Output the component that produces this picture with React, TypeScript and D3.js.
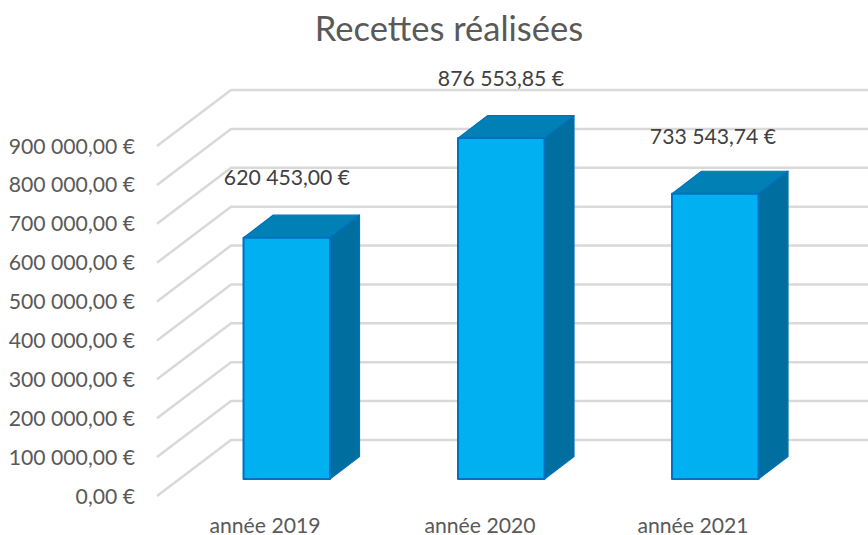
import React from "react";
import * as d3 from "d3";

const categories = ["année 2019", "année 2020", "année 2021"];
const values = [620453.0, 876553.85, 733543.74];
const valueLabels = ["620 453,00 €", "876 553,85 €", "733 543,74 €"];
const ticks = [0, 100000, 200000, 300000, 400000, 500000, 600000, 700000, 800000, 900000];
const tickLabels = ["0,00 €", "100 000,00 €", "200 000,00 €", "300 000,00 €", "400 000,00 €", "500 000,00 €", "600 000,00 €", "700 000,00 €", "800 000,00 €", "900 000,00 €"];
const labelCenters = [287, 501, 713];
const labelBaselines = [185, 85.5, 144];
const barLefts = [243.5, 458, 672];
const categoryCenters = [265, 480, 693];

const font = "Lato, Carlito, 'Open Sans', sans-serif";

export default function App() {
  const yFront = d3.scaleLinear().domain([0, 900000]).range([496, 146]);
  const yBar = d3.scaleLinear().domain([0, 900000]).range([479, 129]);
  const bw = 86.5;
  const dx = 29.5;
  const dy = 22.5;
  const wallDx = 74;
  const wallDy = 56;
  return (
    <svg width={868} height={535} style={{ position: "absolute", left: 0, top: 0, background: "#fff" }} fontFamily={font}>
      <text x={449} y={41} textAnchor="middle" fontSize={34.5} fill="#595959">Recettes réalisées</text>
      {ticks.map((t, i) => {
        const y = yFront(t);
        return (
          <g key={t}>
            <polyline points={`157,${y} ${157 + wallDx},${y - wallDy} 868,${y - wallDy}`} fill="none" stroke="#d9d9d9" strokeWidth={2.5} />
            <text x={135} y={y + 7.5} textAnchor="end" fontSize={21.2} fill="#595959">{tickLabels[i]}</text>
          </g>
        );
      })}
      <g>
        {categories.map((c, i) => {
          const x0 = barLefts[i];
          const x1 = x0 + bw;
          const y0 = yBar(0);
          const yt = yBar(values[i]);
          return (
            <g key={c} stroke="#0070c0" strokeLinejoin="round">
              <path d={`M${x0},${yt} L${x0 + dx},${yt - dy} L${x1 + dx},${yt - dy} L${x1},${yt} Z`} fill="#0080b5" strokeWidth={1.2} />
              <path d={`M${x1},${yt} L${x1 + dx},${yt - dy} L${x1 + dx},${y0 - dy} L${x1},${y0} Z`} fill="#006f9f" strokeWidth={1.2} />
              <rect x={x0} y={yt} width={bw} height={y0 - yt} fill="#00b0f0" strokeWidth={2} />
            </g>
          );
        })}
      </g>
      {valueLabels.map((l, i) => (
        <text key={l} x={labelCenters[i]} y={labelBaselines[i]} textAnchor="middle" fontSize={21.2} fill="#404040">{l}</text>
      ))}
      {categories.map((c, i) => (
        <text key={c} x={categoryCenters[i]} y={532.5} textAnchor="middle" fontSize={21.2} fill="#595959">{c}</text>
      ))}
    </svg>
  );
}
